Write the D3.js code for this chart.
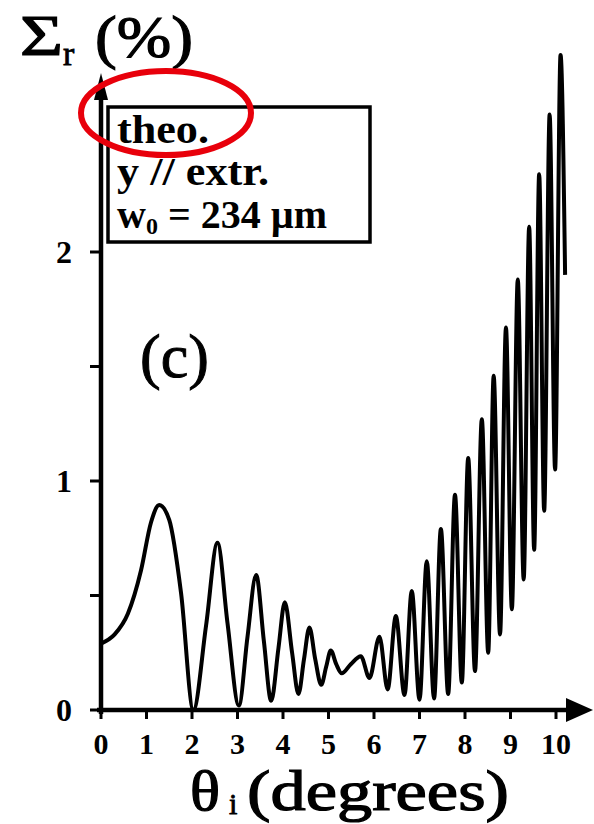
<!DOCTYPE html>
<html>
<head>
<meta charset="utf-8">
<script src="https://cdn.jsdelivr.net/npm/d3@7"></script>
<style>
  body { margin: 0; background: #fff; }
  svg { font-family: "Liberation Serif", "DejaVu Serif", serif; }
</style>
</head>
<body>
<div class="chart"></div>
<script>
// incidence angle (degrees) and reflected fraction (%)
const theta = [0, 0.3, 0.59, 0.88, 1.1, 1.28, 1.5, 1.76, 2.03, 2.31, 2.56, 2.78, 3.03,
  3.22, 3.41, 3.58, 3.74, 3.9, 4.04, 4.2, 4.34, 4.46, 4.58, 4.71, 4.84, 4.95, 5.05,
  5.17, 5.29, 5.49, 5.71, 5.9, 6.12, 6.3, 6.48, 6.67, 6.83, 7.0, 7.16, 7.32, 7.47,
  7.63, 7.78, 7.93, 8.07, 8.22, 8.37, 8.51, 8.63, 8.77, 8.9, 9.03, 9.16, 9.29, 9.41,
  9.52, 9.63, 9.74, 9.86, 9.98, 10.1, 10.2];
const sigma = [0.29, 0.33, 0.42, 0.61, 0.82, 0.895, 0.83, 0.51, 0.0, 0.37, 0.73, 0.38, 0.02,
  0.32, 0.59, 0.3, 0.04, 0.27, 0.47, 0.25, 0.07, 0.22, 0.36, 0.22, 0.11, 0.19, 0.26,
  0.2, 0.16, 0.2, 0.235, 0.14, 0.32, 0.09, 0.41, 0.065, 0.52, 0.045, 0.65, 0.05, 0.79,
  0.07, 0.94, 0.12, 1.1, 0.17, 1.27, 0.25, 1.46, 0.33, 1.67, 0.44, 1.88, 0.57, 2.11,
  0.7, 2.34, 0.87, 2.6, 1.05, 2.86, 1.9];

const xTicks = [0, 1, 2, 3, 4, 5, 6, 7, 8, 9, 10];
const yTicks = [0, 0.5, 1, 1.5, 2];
const yLabels = [0, 1, 2];
const legendLines = ["theo.", "y // extr.", "w", "0", " = 234 µm"];

const data = theta.map((t, i) => ({ t: t, s: sigma[i] }));

const width = 594, height = 824;

const svg = d3.select(".chart")
  .append("svg")
  .attr("width", width)
  .attr("height", height);

//scales
const xScale = d3.scaleLinear().domain([0, 10]).range([101, 556]);
const yScale = d3.scaleLinear().domain([0, 2]).range([710, 252]);

//x axis line + arrow
svg.append("line")
  .attr("x1", xScale(0) - 4).attr("x2", 570)
  .attr("y1", yScale(0)).attr("y2", yScale(0))
  .attr("stroke", "black").attr("stroke-width", 4.5);
svg.append("path")
  .attr("d", `M566,${yScale(0) - 12} L593,${yScale(0)} L566,${yScale(0) + 12} Z`)
  .attr("fill", "black");

//y axis line + arrow
svg.append("line")
  .attr("x1", xScale(0)).attr("x2", xScale(0))
  .attr("y1", yScale(0) + 4).attr("y2", 96)
  .attr("stroke", "black").attr("stroke-width", 4.5);
svg.append("path")
  .attr("d", `M${xScale(0) - 7},100 L${xScale(0)},73 L${xScale(0) + 7},100 Z`)
  .attr("fill", "black");

//x ticks
svg.selectAll(".xtick")
  .data(xTicks)
  .enter()
  .append("line")
  .attr("class", "xtick")
  .attr("x1", (d) => xScale(d)).attr("x2", (d) => xScale(d))
  .attr("y1", yScale(0)).attr("y2", yScale(0) + 9)
  .attr("stroke", "black").attr("stroke-width", 3);

svg.selectAll(".xlabel")
  .data(xTicks)
  .enter()
  .append("text")
  .attr("class", "xlabel")
  .attr("x", (d) => xScale(d))
  .attr("y", 754)
  .attr("text-anchor", "middle")
  .attr("font-size", 30)
  .attr("font-weight", "bold")
  .text((d) => d);

//y ticks
svg.selectAll(".ytick")
  .data(yTicks)
  .enter()
  .append("line")
  .attr("class", "ytick")
  .attr("x1", xScale(0) - 11).attr("x2", xScale(0))
  .attr("y1", (d) => yScale(d)).attr("y2", (d) => yScale(d))
  .attr("stroke", "black").attr("stroke-width", 3);

svg.selectAll(".ylabel")
  .data(yLabels)
  .enter()
  .append("text")
  .attr("class", "ylabel")
  .attr("x", 64)
  .attr("y", (d) => yScale(d) + 11)
  .attr("text-anchor", "middle")
  .attr("font-size", 32)
  .attr("font-weight", "bold")
  .text((d) => d);

//curve
const line = d3.line()
  .x((d) => xScale(d.t))
  .y((d) => yScale(d.s))
  .curve(d3.curveMonotoneX);

svg.append("path")
  .datum(data)
  .attr("d", line)
  .attr("fill", "none")
  .attr("stroke", "black")
  .attr("stroke-width", 4)
  .attr("stroke-linejoin", "round");

//legend box
svg.append("rect")
  .attr("x", 108).attr("y", 107)
  .attr("width", 262).attr("height", 135)
  .attr("fill", "white")
  .attr("stroke", "black").attr("stroke-width", 3.5);

svg.append("text")
  .attr("x", 117).attr("y", 143)
  .attr("font-size", 40).attr("font-weight", "bold")
  .attr("textLength", 92).attr("lengthAdjust", "spacingAndGlyphs")
  .text(legendLines[0]);

svg.append("text")
  .attr("x", 117).attr("y", 185)
  .attr("font-size", 40).attr("font-weight", "bold")
  .attr("textLength", 152).attr("lengthAdjust", "spacingAndGlyphs")
  .text(legendLines[1]);

const w0 = svg.append("text")
  .attr("x", 117).attr("y", 228)
  .attr("font-size", 40).attr("font-weight", "bold");
w0.append("tspan").text(legendLines[2]);
w0.append("tspan").attr("font-size", 24).attr("dy", 6).text(legendLines[3]);
w0.append("tspan").attr("dy", -6).text(legendLines[4]);

//panel label
svg.append("text")
  .attr("x", 140).attr("y", 377)
  .attr("font-size", 62)
  .attr("stroke", "black").attr("stroke-width", 1)
  .text("(c)");

//y title
svg.append("text")
  .attr("x", 20).attr("y", 55)
  .attr("font-size", 58)
  .attr("textLength", 43).attr("lengthAdjust", "spacingAndGlyphs")
  .attr("stroke", "black").attr("stroke-width", 1.2)
  .text("Σ");
svg.append("text")
  .attr("x", 63).attr("y", 65)
  .attr("font-size", 34)
  .attr("stroke", "black").attr("stroke-width", 0.8)
  .text("r");
svg.append("text")
  .attr("x", 95).attr("y", 57)
  .attr("font-size", 60)
  .attr("textLength", 98).attr("lengthAdjust", "spacingAndGlyphs")
  .attr("stroke", "black").attr("stroke-width", 1.2)
  .text("(%)");

//x title
svg.append("text")
  .attr("x", 190).attr("y", 810)
  .attr("font-size", 56)
  .attr("textLength", 30).attr("lengthAdjust", "spacingAndGlyphs")
  .attr("stroke", "black").attr("stroke-width", 1.2)
  .text("θ");
svg.append("text")
  .attr("x", 229).attr("y", 814)
  .attr("font-size", 30)
  .attr("stroke", "black").attr("stroke-width", 0.8)
  .text("i");
svg.append("text")
  .attr("x", 247).attr("y", 810)
  .attr("font-size", 56)
  .attr("textLength", 262).attr("lengthAdjust", "spacingAndGlyphs")
  .attr("stroke", "black").attr("stroke-width", 1.2)
  .text("(degrees)");

//red annotation ellipse
svg.append("ellipse")
  .attr("cx", 166).attr("cy", 113)
  .attr("rx", 85).attr("ry", 42)
  .attr("fill", "none")
  .attr("stroke", "#e8000b")
  .attr("stroke-width", 6);
</script>
</body>
</html>
